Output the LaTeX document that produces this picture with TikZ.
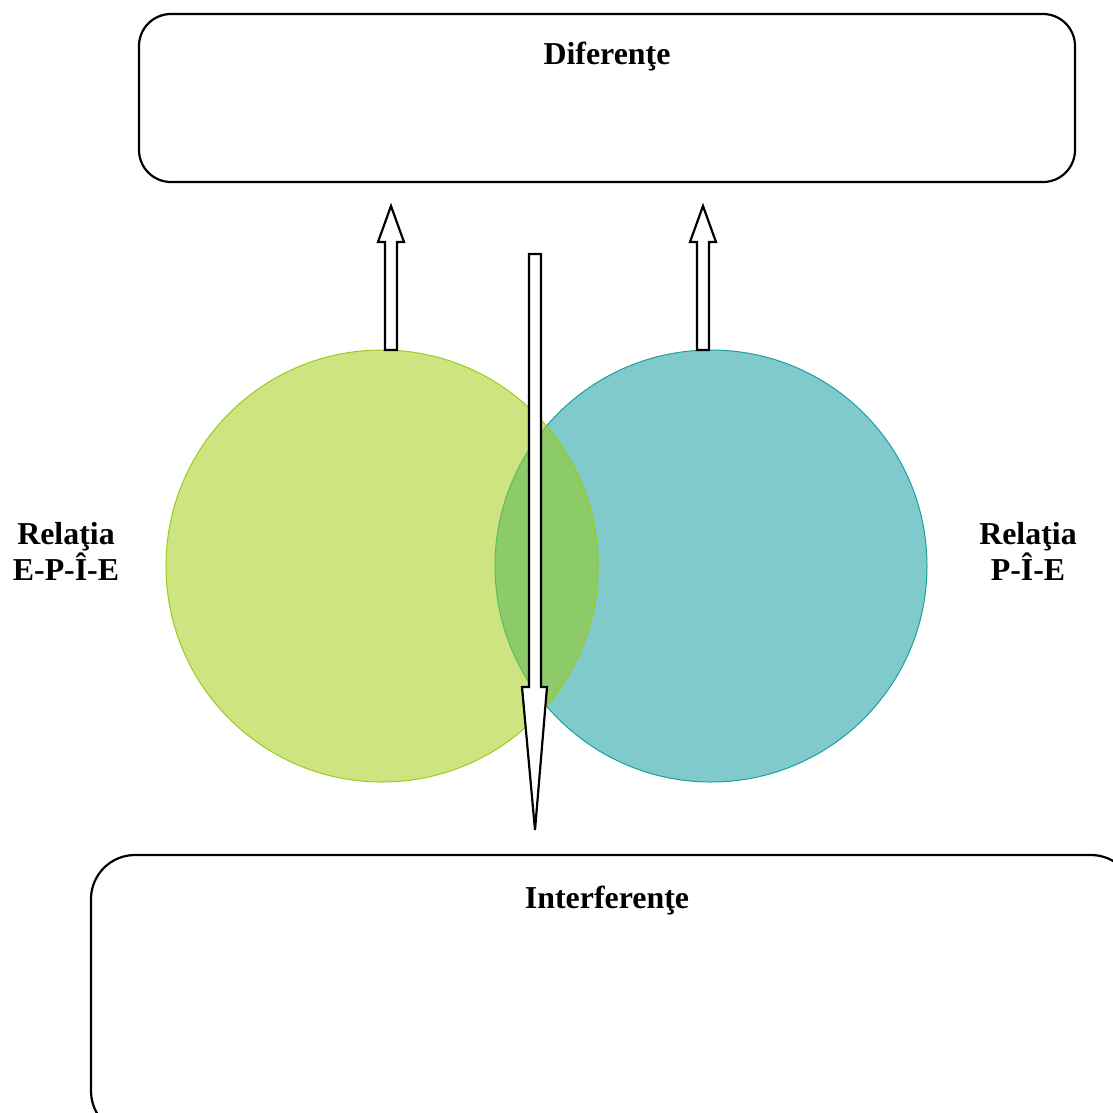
\documentclass[tikz,border=0pt]{standalone}
\usepackage{fontspec}
\setmainfont{Liberation Serif}
\begin{document}
\begin{tikzpicture}[x=1bp,y=-1bp,
  box/.style={draw=black,line width=2.2bp,rounded corners=32bp,fill=white},
  lbl/.style={font=\fontsize{32}{36}\selectfont\bfseries,align=center,inner sep=0pt},
  blockarrow/.style={draw=black,line width=2.2bp,fill=white,line join=miter},
  ring/.style={circle,minimum size=432bp,inner sep=0pt}]
\definecolor{lime}{HTML}{CDE480}
\definecolor{limeedge}{HTML}{9CCB1E}
\definecolor{teal}{HTML}{80CACC}
\definecolor{tealedge}{HTML}{1AA0A0}
\definecolor{lens}{HTML}{8CCB67}
\definecolor{lensedge}{HTML}{5EB86A}
\useasboundingbox (0,0) rectangle (1113,1113);
\clip (0,0) rectangle (1113,1113);

% boxes
\draw[box] (139,14) rectangle (1075,182);
\node[lbl] (dif) at (607,57) {Diferenţe};
\draw[box,rounded corners=44bp] (91,855) rectangle (1135,1135);
\node[lbl] (int) at (607,901) {Interferenţe};

% circles
\node[ring,fill=teal,draw=tealedge,line width=1bp] (pie) at (711,566) {};
\node[ring,fill=lime,draw=limeedge,line width=1bp] (epie) at (382,566) {};
\begin{scope}
  \clip (382,566) circle (216bp);
  \fill[lens] (711,566) circle (216bp);
  \draw[lensedge,line width=1bp] (711,566) circle (216bp);
\end{scope}
\begin{scope}
  \clip (711,566) circle (216bp);
  \draw[limeedge,line width=1bp] (382,566) circle (216bp);
\end{scope}

% side labels
\node[lbl] (l) at (66,551) {Relaţia\\E-P-Î-E};
\node[lbl] (r) at (1028,551) {Relaţia\\P-Î-E};

% block arrows up to the top box
\draw[blockarrow] (385,350) -- (385,242) -- (378,242) -- (391,206) -- (404,242) -- (397,242) -- (397,350) -- cycle;
\draw[blockarrow] (697,350) -- (697,242) -- (690,242) -- (703,206) -- (716,242) -- (709,242) -- (709,350) -- cycle;
% block arrow down to the bottom box
\draw[blockarrow] (529,254) -- (529,687) -- (522,687) -- (535,830) -- (547,687) -- (541,687) -- (541,254) -- cycle;
\end{tikzpicture}
\end{document}
